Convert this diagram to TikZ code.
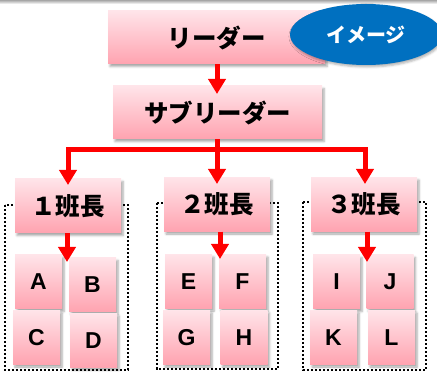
\documentclass[tikz,border=0pt]{standalone}
\usepackage{fontspec}
\setmainfont{Liberation Sans}
\newfontfamily\jp{Noto Sans CJK JP}
\usetikzlibrary{arrows.meta,shadows.blur,shapes.geometric}
\definecolor{pktop}{RGB}{255,228,233}
\definecolor{pkbot}{RGB}{255,163,176}
\definecolor{rd}{RGB}{255,0,0}
\definecolor{bl}{RGB}{0,112,192}
\tikzset{
  pbox/.style={draw=none, top color=pktop, bottom color=pkbot, inner sep=0pt,
    blur shadow={shadow xshift=2pt, shadow yshift=-2.5pt, shadow blur steps=4, shadow opacity=35}},
  headbox/.style={pbox, minimum width=106pt, minimum height=54pt, font=\jp\bfseries\fontsize{24.5}{26}\selectfont},
  topbox/.style={pbox, minimum height=53pt, font=\jp\bfseries\fontsize{24.5}{26}\selectfont},
  mbox/.style={pbox, minimum width=47pt, minimum height=54pt, font=\bfseries\fontsize{23}{25}\selectfont},
  rl/.style={draw=rd, line width=5pt, line join=miter},
  ra/.style={rl, -{Triangle[width=17pt,length=15pt]}},
  frame/.style={draw=black, line width=2.3pt, dash pattern=on 2.3pt off 1.7pt}
}
\begin{document}
\begin{tikzpicture}[x=1pt,y=-1pt]
\useasboundingbox (0,0) rectangle (437,379);
\shade[top color=gray!70, bottom color=white] (0,0) rectangle (437,4);
% dotted frames
\draw[frame] (5,205) rectangle (128,370);
\draw[frame] (157,203) rectangle (278,369);
\draw[frame] (303,202) rectangle (426,370);
% top boxes
\node[topbox, minimum width=217pt] (lead) at (216.5,37.5) {リーダー};
\node[topbox, minimum width=209pt] (sub) at (217.5,112.5) {サブリーダー};
% group heads
\node[headbox] (h1) at (68,206) {１班長};
\node[headbox] (h2) at (217,204.5) {２班長};
\node[headbox] (h3) at (364,204.5) {３班長};
% members
\node[mbox] (A) at (38.5,282) {A};
\node[mbox] (B) at (92.5,285) {B};
\node[mbox] (C) at (36.5,337.5) {C};
\node[mbox] (D) at (93.5,340.5) {D};
\node[mbox] (E) at (188.5,281.5) {E};
\node[mbox] (F) at (242.5,281.5) {F};
\node[mbox] (G) at (186.5,337.5) {G};
\node[mbox] (H) at (244,337.5) {H};
\node[mbox] (I) at (336.5,282) {I};
\node[mbox] (J) at (390,282) {J};
\node[mbox] (K) at (333.5,337.5) {K};
\node[mbox] (L) at (391.5,337.5) {L};
% badge
\node[ellipse, fill=bl, minimum width=152pt, minimum height=61pt, inner sep=0pt,
  text=white, font=\jp\bfseries\fontsize{20}{22}\selectfont,
  blur shadow={shadow xshift=1pt, shadow yshift=-2pt, shadow blur steps=4, shadow opacity=30}] (img) at (366,34.5) {イメージ};
% connectors
\coordinate (subtip) at (217,94);
\coordinate (bar) at (217,150);
\coordinate (t1) at (68,185);
\coordinate (t2) at (217,184);
\coordinate (t3) at (365,184);
\coordinate (m1) at (67,262);
\coordinate (m2) at (220,259);
\coordinate (m3) at (367,262);
\draw[ra] (lead.south -| subtip) -- (subtip);
\draw[rl] (sub.south -| bar) -- (bar);
\draw[ra] (bar) -| (t1);
\draw[ra] (bar) -| (t3);
\draw[ra] (bar) -- (t2);
\draw[ra] (h1.south -| m1) -- (m1);
\draw[ra] (h2.south -| m2) -- (m2);
\draw[ra] (h3.south -| m3) -- (m3);
\end{tikzpicture}
\end{document}
